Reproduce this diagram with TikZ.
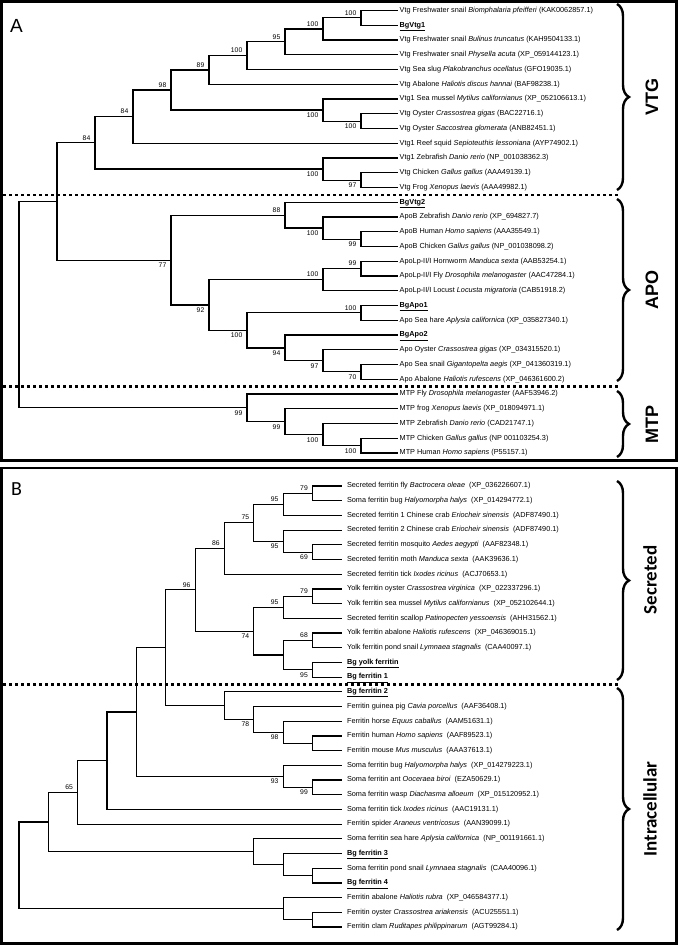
\documentclass[tikz,border=0pt]{standalone}
\usepackage{fontspec}
\setmainfont{Liberation Sans}
\newfontfamily\calibrifont{Carlito}
\usetikzlibrary{decorations.pathreplacing}
\newcommand{\bgname}[1]{\underline{\textbf{#1}}}

\begin{document}
\begin{tikzpicture}[x=1pt, y=-1pt,
  branch/.style={line width=1.2pt},
  leaf/.style={anchor=west, inner xsep=1.5pt, inner ysep=0pt, font=\fontsize{7.3}{8}\selectfont, text height=5.2pt, text depth=1.5pt},
  leafb/.style={leaf, inner xsep=5pt},
  bsup/.style={anchor=south east, inner sep=0pt, xshift=-4.5pt, yshift=2.5pt, font=\fontsize{6.8}{8}\selectfont},
  bsdown/.style={anchor=north east, inner sep=0pt, xshift=-4.5pt, yshift=-2.5pt, font=\fontsize{6.8}{8}\selectfont},
  frame/.style={line width=2.4pt},
  divider/.style={line width=2.7pt, dash pattern=on 3.2pt off 2.8pt},
  bracket/.style={line width=2.4pt, decorate, decoration={brace, amplitude=12pt}},
  grouplab/.style={rotate=90, font=\bfseries\fontsize{18}{20}\selectfont},
  grouplabb/.style={rotate=90, font=\calibrifont\bfseries\fontsize{19}{21}\selectfont}
]
  \useasboundingbox (0,0) rectangle (678,945);

  % Frames
  \draw[frame] (1.5,1.5) rectangle (676.5,460.5);
  \draw[frame] (1.5,468) rectangle (676.5,943.5);
  \node[anchor=base west, inner sep=0pt, font=\fontsize{19}{20}\selectfont] (panA) at (10,32) {A};
  \node[anchor=base west, inner sep=0pt, font=\calibrifont\fontsize{20}{22}\selectfont] (panB) at (11,495) {B};

  % Panel A: leaves
  \node[leaf] (biomph) at (398,10.5) {Vtg Freshwater snail \textit{Biomphalaria pfeifferi} (KAK0062857.1)};
  \node[leaf] (bgvtg1) at (398,25.25) {\bgname{BgVtg1}};
  \node[leaf] (bulinus) at (398,40) {Vtg Freshwater snail \textit{Bulinus truncatus} (KAH9504133.1)};
  \node[leaf] (physella) at (398,54.75) {Vtg Freshwater snail \textit{Physella acuta} (XP\_059144123.1)};
  \node[leaf] (plako) at (398,69.5) {Vtg Sea slug \textit{Plakobranchus ocellatus} (GFO19035.1)};
  \node[leaf] (haliotisV) at (398,84.25) {Vtg Abalone \textit{Haliotis discus hannai} (BAF98238.1)};
  \node[leaf] (mytilusV) at (398,99) {Vtg1 Sea mussel \textit{Mytilus californianus} (XP\_052106613.1)};
  \node[leaf] (crassoV) at (398,113.75) {Vtg Oyster \textit{Crassostrea gigas} (BAC22716.1)};
  \node[leaf] (saccoV) at (398,128.5) {Vtg Oyster \textit{Saccostrea glomerata} (ANB82451.1)};
  \node[leaf] (sepio) at (398,143.25) {Vtg1 Reef squid \textit{Sepioteuthis lessoniana} (AYP74902.1)};
  \node[leaf] (danioV) at (398,158) {Vtg1 Zebrafish \textit{Danio rerio} (NP\_001038362.3)};
  \node[leaf] (gallusV) at (398,172.75) {Vtg Chicken \textit{Gallus gallus} (AAA49139.1)};
  \node[leaf] (xenopusV) at (398,187.5) {Vtg Frog \textit{Xenopus laevis} (AAA49982.1)};
  \node[leaf] (bgvtg2) at (398,202.25) {\bgname{BgVtg2}};
  \node[leaf] (danioB) at (398,217) {ApoB Zebrafish \textit{Danio rerio} (XP\_694827.7)};
  \node[leaf] (homoB) at (398,231.75) {ApoB Human \textit{Homo sapiens} (AAA35549.1)};
  \node[leaf] (gallusB) at (398,246.5) {ApoB Chicken \textit{Gallus gallus} (NP\_001038098.2)};
  \node[leaf] (manduca) at (398,261.25) {ApoLp-II/I Hornworm \textit{Manduca sexta} (AAB53254.1)};
  \node[leaf] (drosoL) at (398,276) {ApoLp-II/I Fly \textit{Drosophila melanogaster} (AAC47284.1)};
  \node[leaf] (locusta) at (398,290.75) {ApoLp-II/I Locust \textit{Locusta migratoria} (CAB51918.2)};
  \node[leaf] (bgapo1) at (398,305.5) {\bgname{BgApo1}};
  \node[leaf] (aplysiaA) at (398,320.25) {Apo Sea hare \textit{Aplysia californica} (XP\_035827340.1)};
  \node[leaf] (bgapo2) at (398,335) {\bgname{BgApo2}};
  \node[leaf] (crassoA) at (398,349.75) {Apo Oyster \textit{Crassostrea gigas} (XP\_034315520.1)};
  \node[leaf] (giganto) at (398,364.5) {Apo Sea snail \textit{Gigantopelta aegis} (XP\_041360319.1)};
  \node[leaf] (haliotisA) at (398,379.25) {Apo Abalone \textit{Haliotis rufescens} (XP\_046361600.2)};
  \node[leaf] (drosoM) at (398,394) {MTP Fly \textit{Drosophila melanogaster} (AAF53946.2)};
  \node[leaf] (xenopusM) at (398,408.75) {MTP frog \textit{Xenopus laevis} (XP\_018094971.1)};
  \node[leaf] (danioM) at (398,423.5) {MTP Zebrafish \textit{Danio rerio} (CAD21747.1)};
  \node[leaf] (gallusM) at (398,438.25) {MTP Chicken \textit{Gallus gallus} (NP 001103254.3)};
  \node[leaf] (homoM) at (398,453) {MTP Human \textit{Homo sapiens} (P55157.1)};

  % Panel A: inner nodes
  \coordinate (v9) at (361,17.875);
  \coordinate (v8) at (323,28.94);
  \coordinate (v7) at (285,41.84);
  \coordinate (v6) at (247,55.67);
  \coordinate (v5) at (209,69.96);
  \coordinate (oy) at (361,121.125);
  \coordinate (biv) at (323,110.06);
  \coordinate (v4) at (171,90.01);
  \coordinate (v3) at (133,116.63);
  \coordinate (gx) at (361,180.125);
  \coordinate (vert) at (323,169.06);
  \coordinate (vtg) at (95,142.85);
  \coordinate (hc) at (361,239.125);
  \coordinate (zhc) at (323,228.06);
  \coordinate (apob) at (285,215.16);
  \coordinate (hf) at (361,268.625);
  \coordinate (lp) at (323,279.69);
  \coordinate (apo1) at (361,312.875);
  \coordinate (ss) at (361,371.875);
  \coordinate (oyss) at (323,360.81);
  \coordinate (apo2) at (285,347.91);
  \coordinate (a100) at (247,330.39);
  \coordinate (a92) at (209,305.04);
  \coordinate (apo) at (171,260.1);
  \coordinate (va) at (57,201.48);
  \coordinate (ch) at (361,445.625);
  \coordinate (zch) at (323,434.56);
  \coordinate (fz) at (285,421.66);
  \coordinate (mtp) at (247,407.83);
  \coordinate (rootA) at (19,304.65);

  % Panel A: branches
  \draw[branch] (v9) |- (biomph.west) (v9) |- (bgvtg1.west);
  \draw[branch] (v8) |- (v9) (v8) |- (bulinus.west);
  \draw[branch] (v7) |- (v8) (v7) |- (physella.west);
  \draw[branch] (v6) |- (v7) (v6) |- (plako.west);
  \draw[branch] (v5) |- (v6) (v5) |- (haliotisV.west);
  \draw[branch] (oy) |- (crassoV.west) (oy) |- (saccoV.west);
  \draw[branch] (biv) |- (mytilusV.west) (biv) |- (oy);
  \draw[branch] (v4) |- (v5) (v4) |- (biv);
  \draw[branch] (v3) |- (v4) (v3) |- (sepio.west);
  \draw[branch] (gx) |- (gallusV.west) (gx) |- (xenopusV.west);
  \draw[branch] (vert) |- (danioV.west) (vert) |- (gx);
  \draw[branch] (vtg) |- (v3) (vtg) |- (vert);
  \draw[branch] (hc) |- (homoB.west) (hc) |- (gallusB.west);
  \draw[branch] (zhc) |- (danioB.west) (zhc) |- (hc);
  \draw[branch] (apob) |- (bgvtg2.west) (apob) |- (zhc);
  \draw[branch] (hf) |- (manduca.west) (hf) |- (drosoL.west);
  \draw[branch] (lp) |- (hf) (lp) |- (locusta.west);
  \draw[branch] (apo1) |- (bgapo1.west) (apo1) |- (aplysiaA.west);
  \draw[branch] (ss) |- (giganto.west) (ss) |- (haliotisA.west);
  \draw[branch] (oyss) |- (crassoA.west) (oyss) |- (ss);
  \draw[branch] (apo2) |- (bgapo2.west) (apo2) |- (oyss);
  \draw[branch] (a100) |- (apo1) (a100) |- (apo2);
  \draw[branch] (a92) |- (lp) (a92) |- (a100);
  \draw[branch] (apo) |- (apob) (apo) |- (a92);
  \draw[branch] (va) |- (vtg) (va) |- (apo);
  \draw[branch] (ch) |- (gallusM.west) (ch) |- (homoM.west);
  \draw[branch] (zch) |- (danioM.west) (zch) |- (ch);
  \draw[branch] (fz) |- (xenopusM.west) (fz) |- (zch);
  \draw[branch] (mtp) |- (drosoM.west) (mtp) |- (fz);
  \draw[branch] (rootA) |- (va) (rootA) |- (mtp);

  % Panel A: bootstrap values
  \node[bsup] (bv9) at (v9) {100};
  \node[bsup] (bv8) at (v8) {100};
  \node[bsup] (bv7) at (v7) {95};
  \node[bsup] (bv6) at (v6) {100};
  \node[bsup] (bv5) at (v5) {89};
  \node[bsdown] (boy) at (oy) {100};
  \node[bsdown] (bbiv) at (biv) {100};
  \node[bsup] (bv4) at (v4) {98};
  \node[bsup] (bv3) at (v3) {84};
  \node[bsdown] (bgx) at (gx) {97};
  \node[bsdown] (bvert) at (vert) {100};
  \node[bsup] (bvtg) at (vtg) {84};
  \node[bsdown] (bhc) at (hc) {99};
  \node[bsdown] (bzhc) at (zhc) {100};
  \node[bsup] (bapob) at (apob) {88};
  \node[bsup] (bhf) at (hf) {99};
  \node[bsup] (blp) at (lp) {100};
  \node[bsup] (bapo1) at (apo1) {100};
  \node[bsdown] (bss) at (ss) {70};
  \node[bsdown] (boyss) at (oyss) {97};
  \node[bsdown] (bapo2) at (apo2) {94};
  \node[bsdown] (ba100) at (a100) {100};
  \node[bsdown] (ba92) at (a92) {92};
  \node[bsdown] (bapo) at (apo) {77};
  \node[bsdown] (bch) at (ch) {100};
  \node[bsdown] (bzch) at (zch) {100};
  \node[bsdown] (bfz) at (fz) {99};
  \node[bsdown] (bmtp) at (mtp) {99};

  % Panel A: groups
  \draw[divider] (3,195) -- (618,195);
  \draw[divider] (3,386.6) -- (618,386.6);
  \draw[bracket] (617,4) -- (617,190);
  \draw[bracket] (617,199) -- (617,381);
  \draw[bracket] (617,391) -- (617,457);
  \node[grouplab] (gvtg) at (652,97) {VTG};
  \node[grouplab] (gapo) at (652,290) {APO};
  \node[grouplab] (gmtp) at (652,424) {MTP};

  % Panel B: leaves
  \node[leafb] (bactro) at (341.85,486) {Secreted ferritin fly \textit{Bactrocera oleae}~~(XP\_036226607.1)};
  \node[leafb] (halyoS) at (341.85,500.7) {Soma ferritin bug \textit{Halyomorpha halys}~~(XP\_014294772.1)};
  \node[leafb] (crab1) at (341.85,515.4) {Secreted ferritin 1 Chinese crab \textit{Eriocheir sinensis}~~(ADF87490.1)};
  \node[leafb] (crab2) at (341.85,530.1) {Secreted ferritin 2 Chinese crab \textit{Eriocheir sinensis}~~(ADF87490.1)};
  \node[leafb] (aedes) at (341.85,544.8) {Secreted ferritin mosquito \textit{Aedes aegypti}~~(AAF82348.1)};
  \node[leafb] (mandF) at (341.85,559.5) {Secreted ferritin moth \textit{Manduca sexta}~~(AAK39636.1)};
  \node[leafb] (ixodesS) at (341.85,574.2) {Secreted ferritin tick \textit{Ixodes ricinus}~~(ACJ70653.1)};
  \node[leafb] (crassoY) at (341.85,588.9) {Yolk ferritin oyster \textit{Crassostrea virginica}~~(XP\_022337296.1)};
  \node[leafb] (mytilusY) at (341.85,603.6) {Yolk ferritin sea mussel \textit{Mytilus californianus}~~(XP\_052102644.1)};
  \node[leafb] (patino) at (341.85,618.3) {Secreted ferritin scallop \textit{Patinopecten yessoensis}~~(AHH31562.1)};
  \node[leafb] (haliotisY) at (341.85,633) {Yolk ferritin abalone \textit{Haliotis rufescens}~~(XP\_046369015.1)};
  \node[leafb] (lymnY) at (341.85,647.7) {Yolk ferritin pond snail \textit{Lymnaea stagnalis}~~(CAA40097.1)};
  \node[leafb] (bgyolk) at (341.85,662.4) {\bgname{Bg yolk ferritin}};
  \node[leafb] (bgfer1) at (341.85,677.1) {\bgname{Bg ferritin 1}};
  \node[leafb] (bgfer2) at (341.85,691.8) {\bgname{Bg ferritin 2}};
  \node[leafb] (cavia) at (341.85,706.5) {Ferritin guinea pig \textit{Cavia porcellus}~~(AAF36408.1)};
  \node[leafb] (equus) at (341.85,721.2) {Ferritin horse \textit{Equus caballus}~~(AAM51631.1)};
  \node[leafb] (homoF) at (341.85,735.9) {Ferritin human \textit{Homo sapiens}~~(AAF89523.1)};
  \node[leafb] (mus) at (341.85,750.6) {Ferritin mouse \textit{Mus musculus}~~(AAA37613.1)};
  \node[leafb] (halyoI) at (341.85,765.3) {Soma ferritin bug \textit{Halyomorpha halys}~~(XP\_014279223.1)};
  \node[leafb] (ooceraea) at (341.85,780) {Soma ferritin ant \textit{Ooceraea biroi}~~(EZA50629.1)};
  \node[leafb] (diachasma) at (341.85,794.7) {Soma ferritin wasp \textit{Diachasma alloeum}~~(XP\_015120952.1)};
  \node[leafb] (ixodesI) at (341.85,809.4) {Soma ferritin tick \textit{Ixodes ricinus}~~(AAC19131.1)};
  \node[leafb] (araneus) at (341.85,824.1) {Ferritin spider \textit{Araneus ventricosus}~~(AAN39099.1)};
  \node[leafb] (aplysiaF) at (341.85,838.8) {Soma ferritin sea hare \textit{Aplysia californica}~~(NP\_001191661.1)};
  \node[leafb] (bgfer3) at (341.85,853.5) {\bgname{Bg ferritin 3}};
  \node[leafb] (lymnI) at (341.85,868.2) {Soma ferritin pond snail \textit{Lymnaea stagnalis}~~(CAA40096.1)};
  \node[leafb] (bgfer4) at (341.85,882.9) {\bgname{Bg ferritin 4}};
  \node[leafb] (haliotisF) at (341.85,897.6) {Ferritin abalone \textit{Haliotis rubra}~~(XP\_046584377.1)};
  \node[leafb] (crassoF) at (341.85,912.3) {Ferritin oyster \textit{Crassostrea ariakensis}~~(ACU25551.1)};
  \node[leafb] (ruditapes) at (341.85,927) {Ferritin clam \textit{Ruditapes philippinarum}~~(AGT99284.1)};

  % Panel B: inner nodes
  \coordinate (fb) at (312.5,493.35);
  \coordinate (fbc) at (283.15,504.375);
  \coordinate (mm) at (312.5,552.15);
  \coordinate (cmm) at (283.15,541.125);
  \coordinate (s75) at (253.8,522.75);
  \coordinate (s86) at (224.45,548.475);
  \coordinate (om) at (312.5,596.25);
  \coordinate (oms) at (283.15,607.275);
  \coordinate (ap) at (312.5,640.35);
  \coordinate (bg) at (312.5,669.75);
  \coordinate (apbg) at (283.15,655.05);
  \coordinate (s74) at (253.8,631.16);
  \coordinate (s96) at (195.1,589.82);
  \coordinate (hm) at (312.5,743.25);
  \coordinate (hhm) at (283.15,732.225);
  \coordinate (g78) at (253.8,719.36);
  \coordinate (f2) at (224.45,705.58);
  \coordinate (s166) at (165.75,647.7);
  \coordinate (aw) at (312.5,787.35);
  \coordinate (baw) at (283.15,776.325);
  \coordinate (n137) at (136.4,712.01);
  \coordinate (n107) at (107.05,760.71);
  \coordinate (n78) at (77.7,792.4);
  \coordinate (pb) at (312.5,875.55);
  \coordinate (bpb) at (283.15,864.525);
  \coordinate (sh) at (253.8,851.66);
  \coordinate (n49) at (48.35,822.03);
  \coordinate (oc) at (312.5,919.65);
  \coordinate (aoc) at (283.15,908.625);
  \coordinate (rootB) at (19,865.33);

  % Panel B: branches
  \draw[branch] (fb) |- (bactro.west) (fb) |- (halyoS.west);
  \draw[branch] (fbc) |- (fb) (fbc) |- (crab1.west);
  \draw[branch] (mm) |- (aedes.west) (mm) |- (mandF.west);
  \draw[branch] (cmm) |- (crab2.west) (cmm) |- (mm);
  \draw[branch] (s75) |- (fbc) (s75) |- (cmm);
  \draw[branch] (s86) |- (s75) (s86) |- (ixodesS.west);
  \draw[branch] (om) |- (crassoY.west) (om) |- (mytilusY.west);
  \draw[branch] (oms) |- (om) (oms) |- (patino.west);
  \draw[branch] (ap) |- (haliotisY.west) (ap) |- (lymnY.west);
  \draw[branch] (bg) |- (bgyolk.west) (bg) |- (bgfer1.west);
  \draw[branch] (apbg) |- (ap) (apbg) |- (bg);
  \draw[branch] (s74) |- (oms) (s74) |- (apbg);
  \draw[branch] (s96) |- (s86) (s96) |- (s74);
  \draw[branch] (hm) |- (homoF.west) (hm) |- (mus.west);
  \draw[branch] (hhm) |- (equus.west) (hhm) |- (hm);
  \draw[branch] (g78) |- (cavia.west) (g78) |- (hhm);
  \draw[branch] (f2) |- (bgfer2.west) (f2) |- (g78);
  \draw[branch] (s166) |- (s96) (s166) |- (f2);
  \draw[branch] (aw) |- (ooceraea.west) (aw) |- (diachasma.west);
  \draw[branch] (baw) |- (halyoI.west) (baw) |- (aw);
  \draw[branch] (n137) |- (s166) (n137) |- (baw);
  \draw[branch] (n107) |- (n137) (n107) |- (ixodesI.west);
  \draw[branch] (n78) |- (n107) (n78) |- (araneus.west);
  \draw[branch] (pb) |- (lymnI.west) (pb) |- (bgfer4.west);
  \draw[branch] (bpb) |- (bgfer3.west) (bpb) |- (pb);
  \draw[branch] (sh) |- (aplysiaF.west) (sh) |- (bpb);
  \draw[branch] (n49) |- (n78) (n49) |- (sh);
  \draw[branch] (oc) |- (crassoF.west) (oc) |- (ruditapes.west);
  \draw[branch] (aoc) |- (haliotisF.west) (aoc) |- (oc);
  \draw[branch] (rootB) |- (n49) (rootB) |- (aoc);

  % Panel B: bootstrap values
  \node[bsup] (bfb) at (fb) {79};
  \node[bsup] (bfbc) at (fbc) {95};
  \node[bsup] (bs75) at (s75) {75};
  \node[bsdown] (bcmm) at (cmm) {95};
  \node[bsdown] (bmm) at (mm) {69};
  \node[bsup] (bs86) at (s86) {86};
  \node[bsup] (bs96) at (s96) {96};
  \node[bsup] (bom) at (om) {79};
  \node[bsup] (boms) at (oms) {95};
  \node[bsdown] (bs74) at (s74) {74};
  \node[bsup] (bap) at (ap) {68};
  \node[bsdown] (bbg) at (bg) {95};
  \node[bsdown] (bg78) at (g78) {78};
  \node[bsdown] (bhhm) at (hhm) {98};
  \node[bsdown] (bbaw) at (baw) {93};
  \node[bsdown] (baw99) at (aw) {99};
  \node[bsup] (bn78) at (n78) {65};

  % Panel B: groups
  \draw[divider] (3,684.5) -- (618,684.5);
  \draw[bracket] (617,481) -- (617,680);
  \draw[bracket] (617,688) -- (617,930);
  \node[grouplabb] (gsec) at (650,580) {Secreted};
  \node[grouplabb] (gint) at (650,809) {Intracellular};
\end{tikzpicture}
\end{document}
